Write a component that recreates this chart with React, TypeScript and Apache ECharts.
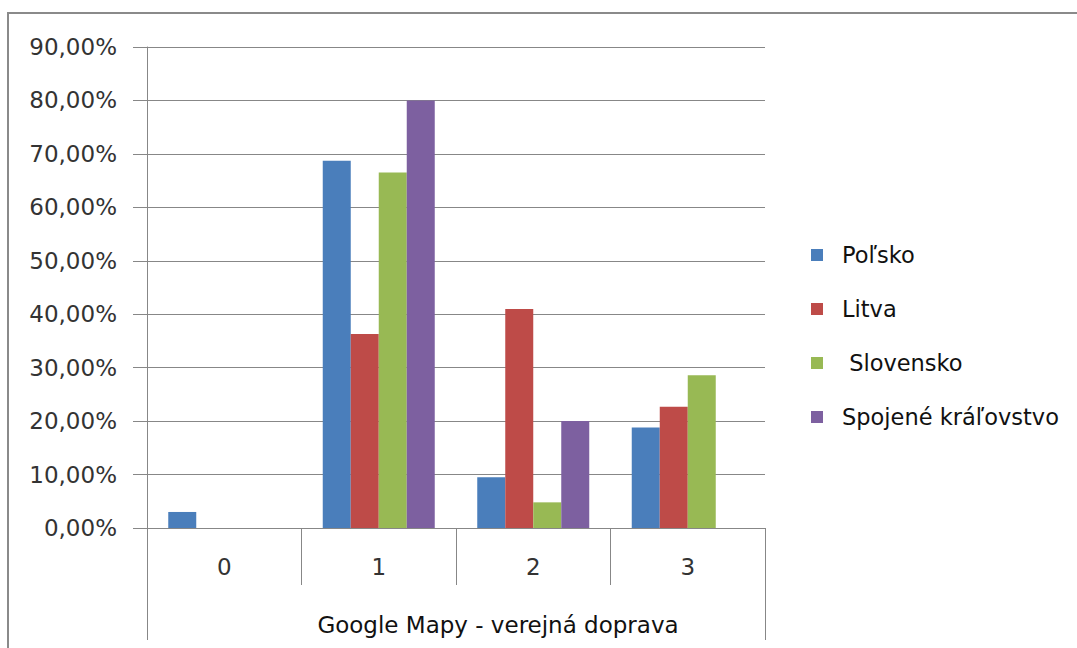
import React, { useEffect, useRef } from "react";
import * as echarts from "echarts";

const categories = ["0", "1", "2", "3"];
const groupLabel = ["Google Mapy - verejná doprava"];
const seriesNames = ["Poľsko", "Litva", " Slovensko", "Spojené kráľovstvo"];
const polsko = [3.0, 68.7, 9.5, 18.8];
const litva = [0, 36.3, 41.0, 22.7];
const slovensko = [0, 66.5, 4.8, 28.6];
const spojene = [0, 80.0, 20.0, 0];
const colors = ["#4A7EBB", "#BE4B48", "#98B954", "#7D60A0"];

const FONT = "DejaVu Sans";
const GRAY = "#878787";

export default function App() {
  const ref = useRef<HTMLDivElement>(null);
  useEffect(() => {
    if (!ref.current) return;
    const chart = echarts.init(ref.current, null, { renderer: "svg" });
    const values = [polsko, litva, slovensko, spojene];
    chart.setOption({
      animation: false,
      backgroundColor: "#ffffff",
      textStyle: { fontFamily: FONT },
      grid: { left: 147, right: 312, top: 47, bottom: 120 },
      graphic: [
        {
          type: "rect",
          shape: { x: 8, y: 13, width: 1300, height: 1000 },
          style: { fill: "none", stroke: "#8a8a8a", lineWidth: 2 },
          silent: true,
        },
      ],
      legend: {
        orient: "vertical",
        left: 811,
        top: 243,
        padding: 0,
        itemWidth: 12,
        itemHeight: 12,
        itemGap: 30,
        icon: "rect",
        textStyle: {
          fontFamily: FONT,
          fontSize: 22.5,
          color: "#111",
          lineHeight: 24,
          padding: [0, 0, 0, 14],
        },
        data: seriesNames,
      },
      xAxis: [
        {
          type: "category",
          data: categories,
          position: "bottom",
          axisLine: { show: true, lineStyle: { color: GRAY, width: 1 } },
          axisTick: { show: true, length: 57, lineStyle: { color: GRAY } },
          axisLabel: { fontFamily: FONT, fontSize: 23, color: "#333", margin: 27 },
          splitLine: { show: false },
        },
        {
          type: "category",
          data: groupLabel,
          position: "bottom",
          axisLine: { show: false },
          axisTick: { show: true, length: 112, lineStyle: { color: GRAY } },
          axisLabel: {
            fontFamily: FONT,
            fontSize: 23,
            color: "#111",
            margin: 85,
            padding: [0, 0, 0, 84],
          },
          splitLine: { show: false },
        },
      ],
      yAxis: {
        type: "value",
        min: 0,
        max: 90,
        interval: 10,
        axisLine: { show: true, lineStyle: { color: GRAY, width: 1 } },
        axisTick: { show: true, length: 14, lineStyle: { color: GRAY } },
        axisLabel: {
          fontFamily: FONT,
          fontSize: 23,
          color: "#333",
          margin: 30,
          formatter: (v: number) => v.toFixed(2).replace(".", ",") + "%",
        },
        splitLine: { show: true, lineStyle: { color: GRAY, width: 1 } },
      },
      series: seriesNames.map((name, i) => ({
        name,
        type: "bar",
        xAxisIndex: 0,
        data: values[i],
        barWidth: 28,
        barGap: "0%",
        itemStyle: { color: colors[i] },
      })),
    });
    return () => chart.dispose();
  }, []);
  return (
    <div
      ref={ref}
      style={{ position: "absolute", left: 0, top: 0, width: 1077, height: 648 }}
    />
  );
}
